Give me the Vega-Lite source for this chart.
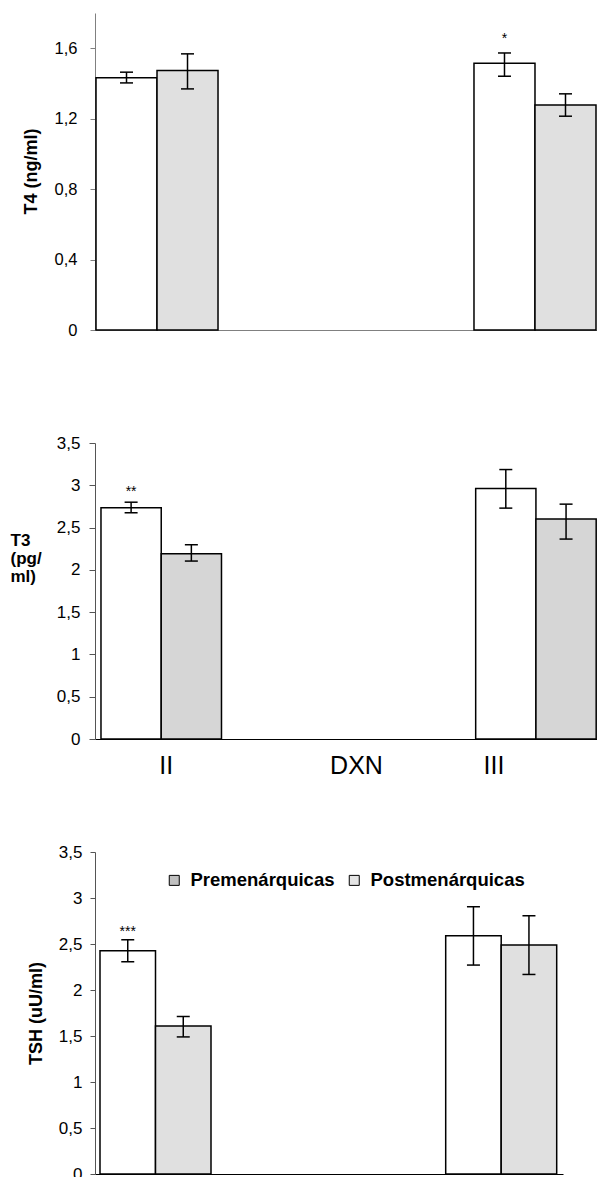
{
  "$schema": "https://vega.github.io/schema/vega-lite/v6.json",
  "padding": {"left": 10, "top": 13, "right": 0, "bottom": 0},
  "bounds": "flush",
  "spacing": 113,
  "config": {
    "view": {"stroke": null},
    "font": "Liberation Sans",
    "axis": {"grid": false, "labelFont": "Liberation Sans", "titleFont": "Liberation Sans", "labelColor": "black", "titleColor": "black"},
    "legend": {"labelFont": "Liberation Sans"}
  },
  "datasets": {
    "hormones": [
      {"Hormone": "T4", "Group": "II", "Series": "Postmenárquicas", "mean": 1.432, "lo": 1.403, "hi": 1.464, "sig": ""},
      {"Hormone": "T4", "Group": "II", "Series": "Premenárquicas", "mean": 1.473, "lo": 1.369, "hi": 1.568, "sig": ""},
      {"Hormone": "T4", "Group": "III", "Series": "Postmenárquicas", "mean": 1.515, "lo": 1.441, "hi": 1.573, "sig": "*"},
      {"Hormone": "T4", "Group": "III", "Series": "Premenárquicas", "mean": 1.278, "lo": 1.214, "hi": 1.341, "sig": ""},
      {"Hormone": "T3", "Group": "II", "Series": "Postmenárquicas", "mean": 2.734, "lo": 2.675, "hi": 2.8, "sig": "**"},
      {"Hormone": "T3", "Group": "II", "Series": "Premenárquicas", "mean": 2.191, "lo": 2.104, "hi": 2.297, "sig": ""},
      {"Hormone": "T3", "Group": "III", "Series": "Postmenárquicas", "mean": 2.961, "lo": 2.73, "hi": 3.186, "sig": ""},
      {"Hormone": "T3", "Group": "III", "Series": "Premenárquicas", "mean": 2.6, "lo": 2.364, "hi": 2.777, "sig": ""},
      {"Hormone": "TSH", "Group": "II", "Series": "Postmenárquicas", "mean": 2.427, "lo": 2.307, "hi": 2.546, "sig": "***"},
      {"Hormone": "TSH", "Group": "II", "Series": "Premenárquicas", "mean": 1.61, "lo": 1.49, "hi": 1.712, "sig": ""},
      {"Hormone": "TSH", "Group": "III", "Series": "Postmenárquicas", "mean": 2.59, "lo": 2.271, "hi": 2.905, "sig": ""},
      {"Hormone": "TSH", "Group": "III", "Series": "Premenárquicas", "mean": 2.489, "lo": 2.169, "hi": 2.807, "sig": ""}
    ]
  },
  "resolve": {
    "scale": {"x": "independent", "y": "independent", "xOffset": "independent", "color": "independent", "fill": "independent"},
    "legend": {"color": "independent", "fill": "independent"}
  },
  "vconcat": [
    {
      "width": 502,
      "height": 317,
      "data": {"name": "hormones"},
      "transform": [{"filter": "datum.Hormone === 'T4'"}],
      "encoding": {
        "x": {"field": "Group", "type": "nominal",
          "scale": {"domain": ["II", "III"], "paddingInner": 0.6772, "paddingOuter": 0.00265, "align": 0.5},
          "axis": {"labels": false, "ticks": false, "title": null, "domainColor": "#808080"}},
        "xOffset": {"field": "Series", "type": "nominal",
          "scale": {"domain": ["Postmenárquicas", "Premenárquicas"], "paddingInner": 0, "paddingOuter": 0}}
      },
      "layer": [
        {
          "mark": {"type": "bar", "stroke": "black", "strokeWidth": 1.5},
          "encoding": {
            "y": {"field": "mean", "type": "quantitative",
              "scale": {"domain": [0, 1.8], "nice": false},
              "axis": {"title": "T4 (ng/ml)", "values": [0, 0.4, 0.8, 1.2, 1.6],
                "labelExpr": "replace(format(datum.value, '~g'), '.', ',')",
                "labelFontSize": 16.5, "tickSize": 5, "labelPadding": 13,
                "domainColor": "#808080", "tickColor": "#808080",
                "titleFontSize": 18, "titleFontWeight": "bold",
                "titleX": -64, "titleY": 158, "titleBaseline": "middle", "titleAlign": "center", "titleAngle": -90}},
            "color": {"field": "Series", "type": "nominal",
              "scale": {"domain": ["Postmenárquicas", "Premenárquicas"], "range": ["#ffffff", "#e0e0e0"]},
              "legend": null}
          }
        },
        {"mark": {"type": "rule", "strokeWidth": 1.5, "color": "black"},
          "encoding": {"y": {"field": "lo", "type": "quantitative"}, "y2": {"field": "hi"}}},
        {"mark": {"type": "tick", "size": 13, "thickness": 1.5, "color": "black", "opacity": 1},
          "encoding": {"y": {"field": "lo", "type": "quantitative"}}},
        {"mark": {"type": "tick", "size": 13, "thickness": 1.5, "color": "black", "opacity": 1},
          "encoding": {"y": {"field": "hi", "type": "quantitative"}}},
        {"mark": {"type": "text", "dy": -9.5, "fontSize": 14, "baseline": "alphabetic", "color": "black"},
          "encoding": {"y": {"field": "hi", "type": "quantitative"}, "text": {"field": "sig"}}}
      ]
    },
    {
      "width": 502,
      "height": 296,
      "data": {"name": "hormones"},
      "transform": [{"filter": "datum.Hormone === 'T3'"}],
      "encoding": {
        "x": {"field": "Group", "type": "nominal",
          "scale": {"domain": ["II", "III"], "paddingInner": 0.6784, "paddingOuter": 0.00907, "align": 0.88},
          "axis": {"title": "DXN", "titleFontSize": 25, "titleFontWeight": "normal",
            "titleX": 261, "titleY": 14, "titleBaseline": "top", "titleAlign": "center",
            "labelFontSize": 25, "labelPadding": 14, "ticks": false, "tickSize": 0, "labelAngle": 0,
            "labelOffset": {"condition": {"test": "datum.value === 'II'", "value": 5}, "value": -42},
            "domainColor": "black"}},
        "xOffset": {"field": "Series", "type": "nominal",
          "scale": {"domain": ["Postmenárquicas", "Premenárquicas"], "paddingInner": 0, "paddingOuter": 0}}
      },
      "layer": [
        {
          "mark": {"type": "bar", "stroke": "black", "strokeWidth": 1.5},
          "encoding": {
            "y": {"field": "mean", "type": "quantitative",
              "scale": {"domain": [0, 3.5], "nice": false},
              "axis": {"title": ["T3", "(pg/", "ml)"], "values": [0, 0.5, 1, 1.5, 2, 2.5, 3, 3.5],
                "labelExpr": "replace(format(datum.value, '~g'), '.', ',')",
                "labelFontSize": 17, "tickSize": 6, "labelPadding": 9,
                "domainColor": "#555555", "tickColor": "#555555",
                "titleFontSize": 17, "titleFontWeight": "bold", "titleLineHeight": 18,
                "titleX": -85, "titleY": 102, "titleBaseline": "alphabetic", "titleAlign": "left", "titleAngle": 0}},
            "color": {"field": "Series", "type": "nominal",
              "scale": {"domain": ["Postmenárquicas", "Premenárquicas"], "range": ["#ffffff", "#d6d6d6"]},
              "legend": null}
          }
        },
        {"mark": {"type": "rule", "strokeWidth": 1.5, "color": "black"},
          "encoding": {"y": {"field": "lo", "type": "quantitative"}, "y2": {"field": "hi"}}},
        {"mark": {"type": "tick", "size": 13, "thickness": 1.5, "color": "black", "opacity": 1},
          "encoding": {"y": {"field": "lo", "type": "quantitative"}}},
        {"mark": {"type": "tick", "size": 13, "thickness": 1.5, "color": "black", "opacity": 1},
          "encoding": {"y": {"field": "hi", "type": "quantitative"}}},
        {"mark": {"type": "text", "dy": -6.7, "fontSize": 14, "baseline": "alphabetic", "color": "black"},
          "encoding": {"y": {"field": "hi", "type": "quantitative"}, "text": {"field": "sig"}}}
      ]
    },
    {
      "width": 468,
      "height": 322,
      "data": {"name": "hormones"},
      "transform": [{"filter": "datum.Hormone === 'TSH'"}],
      "encoding": {
        "x": {"field": "Group", "type": "nominal",
          "scale": {"domain": ["II", "III"], "paddingInner": 0.6789, "paddingOuter": 0.01634, "align": 0.4425},
          "axis": {"labels": false, "ticks": false, "title": null, "domainColor": "black"}},
        "xOffset": {"field": "Series", "type": "nominal",
          "scale": {"domain": ["Postmenárquicas", "Premenárquicas"], "paddingInner": 0, "paddingOuter": 0}}
      },
      "layer": [
        {
          "mark": {"type": "bar", "stroke": "black", "strokeWidth": 1.5},
          "encoding": {
            "y": {"field": "mean", "type": "quantitative",
              "scale": {"domain": [0, 3.5], "nice": false},
              "axis": {"title": "TSH (uU/ml)", "values": [0, 0.5, 1, 1.5, 2, 2.5, 3, 3.5],
                "labelExpr": "replace(format(datum.value, '~g'), '.', ',')",
                "labelFontSize": 17, "tickSize": 5, "labelPadding": 8,
                "domainColor": "#555555", "tickColor": "#555555",
                "titleFontSize": 18, "titleFontWeight": "bold",
                "titleX": -58.5, "titleY": 161, "titleBaseline": "middle", "titleAlign": "center", "titleAngle": -90}},
            "color": {"field": "Series", "type": "nominal",
              "scale": {"domain": ["Postmenárquicas", "Premenárquicas"], "range": ["#ffffff", "#e0e0e0"]},
              "legend": null}
          }
        },
        {
          "mark": {"type": "square", "size": 0, "filled": true, "opacity": 1, "stroke": "black", "strokeWidth": 1},
          "encoding": {
            "y": {"field": "mean", "type": "quantitative"},
            "fill": {"field": "Series", "type": "nominal",
              "scale": {"domain": ["Premenárquicas", "Postmenárquicas"], "range": ["#c0c0c0", "#e4e4e4"]},
              "legend": {"orient": "none", "legendX": 70, "legendY": 19, "padding": 0, "direction": "horizontal", "title": null,
                "symbolType": "square", "symbolSize": 100, "symbolStrokeColor": "black", "symbolStrokeWidth": 1, "symbolOpacity": 1,
                "labelFontSize": 18.5, "labelFontWeight": "bold", "labelColor": "black", "labelOffset": 7, "columnPadding": 10}}
          }
        },
        {"mark": {"type": "rule", "strokeWidth": 1.5, "color": "black"},
          "encoding": {"y": {"field": "lo", "type": "quantitative"}, "y2": {"field": "hi"}}},
        {"mark": {"type": "tick", "size": 13, "thickness": 1.5, "color": "black", "opacity": 1},
          "encoding": {"y": {"field": "lo", "type": "quantitative"}}},
        {"mark": {"type": "tick", "size": 13, "thickness": 1.5, "color": "black", "opacity": 1},
          "encoding": {"y": {"field": "hi", "type": "quantitative"}}},
        {"mark": {"type": "text", "dy": -3.7, "fontSize": 14, "baseline": "alphabetic", "color": "black"},
          "encoding": {"y": {"field": "hi", "type": "quantitative"}, "text": {"field": "sig"}}}
      ]
    }
  ]
}
